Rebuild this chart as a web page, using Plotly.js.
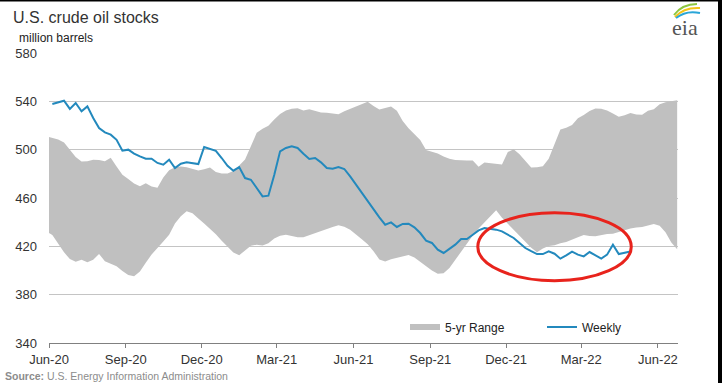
<!DOCTYPE html>
<html>
<head>
<meta charset="utf-8">
<script src="https://cdn.plot.ly/plotly-3.0.1.min.js"></script>
<style>
html,body{margin:0;padding:0;background:#fff;}
#chart{width:722px;height:383px;}
</style>
</head>
<body>
<div id="chart"></div>
<script>
// ---- data (weekly, week ending Friday) ----
const weekEnding = [
'2020-05-29','2020-06-05','2020-06-12','2020-06-19','2020-06-26','2020-07-03','2020-07-10','2020-07-17','2020-07-24','2020-07-31',
'2020-08-07','2020-08-14','2020-08-21','2020-08-28','2020-09-04','2020-09-11','2020-09-18','2020-09-25','2020-10-02','2020-10-09',
'2020-10-16','2020-10-23','2020-10-30','2020-11-06','2020-11-13','2020-11-20','2020-11-27','2020-12-04','2020-12-11','2020-12-18',
'2020-12-25','2021-01-01','2021-01-08','2021-01-15','2021-01-22','2021-01-29','2021-02-05','2021-02-12','2021-02-19','2021-02-26',
'2021-03-05','2021-03-12','2021-03-19','2021-03-26','2021-04-02','2021-04-09','2021-04-16','2021-04-23','2021-04-30','2021-05-07',
'2021-05-14','2021-05-21','2021-05-28','2021-06-04','2021-06-11','2021-06-18','2021-06-25','2021-07-02','2021-07-09','2021-07-16',
'2021-07-23','2021-07-30','2021-08-06','2021-08-13','2021-08-20','2021-08-27','2021-09-03','2021-09-10','2021-09-17','2021-09-24',
'2021-10-01','2021-10-08','2021-10-15','2021-10-22','2021-10-29','2021-11-05','2021-11-12','2021-11-19','2021-11-26','2021-12-03',
'2021-12-10','2021-12-17','2021-12-24','2021-12-31','2022-01-07','2022-01-14','2022-01-21','2022-01-28','2022-02-04','2022-02-11',
'2022-02-18','2022-02-25','2022-03-04','2022-03-11','2022-03-18','2022-03-25','2022-04-01','2022-04-08','2022-04-15','2022-04-22',
'2022-04-29','2022-05-06','2022-05-13','2022-05-20','2022-05-27','2022-06-03','2022-06-10','2022-06-17','2022-06-24'
];

// 5-year range, upper edge (million barrels)
const rangeHigh = [
511,510,508.4,506,499.5,494,490.3,490.4,491.7,491.4,490.4,
493.4,486,479.3,475.7,472,469.8,472.2,469.6,468.4,477,
483,485.4,486.1,485.4,483.8,482.8,483.7,485.2,481.6,480.3,
480.3,482.4,486.9,491.8,502.9,513.9,517.4,519.8,525,529.6,
532.4,533.8,534.2,532.5,533.5,532.2,530.8,530.5,530,529.4,
531.8,533.9,535.6,537.9,539.6,536.1,533.3,534.5,535.7,532.3,
523.8,517.7,512.9,508,499.7,498.2,496.8,494.3,492.5,491.4,
491.5,491,491,485.9,489.4,489,488.5,487.7,498,500.3,
496.2,490.4,485.2,485.4,486.3,492.4,504.4,516.6,518.2,520.5,
526.1,528.6,532.1,534.1,533.9,532.5,529.9,527.3,528.5,530.3,
529.2,529,532.3,533.5,537.6,539.2,540,540.8
];

// 5-year range, lower edge (million barrels)
const rangeLow = [
432.4,429.4,422,415,409.5,407.2,408.9,406.9,408.9,413.7,407.6,
405.5,403.5,399.5,396.2,395.2,399.2,406.4,413.3,419,424,
429.5,439,445,449,447.3,443,439,434.8,430,424.6,
419.3,414.8,412.6,416.5,420.4,421.4,420.6,422.5,426.5,428.8,
429.5,428.5,427.5,427.5,429.4,431,432.6,434.3,435.9,437.5,
436.2,433.7,429.7,425.9,421.8,416,409.2,407.5,409.4,410.3,
411.6,412.8,410.8,407.6,403.8,400,397.4,397.7,402,409.2,
416,422.5,429,434.7,440.3,445,449.8,443.6,438.3,433.5,
428.7,423.8,418.9,415.2,418.2,420.2,420.8,422.5,423.5,425.5,
427.6,429.4,428.5,428.4,429.6,430.2,430.5,431.7,433.4,434.8,
435.5,435.9,437.2,438.4,437,431.7,423.2,417.5
];

// Weekly U.S. crude oil stocks, 2020-06-05 .. 2022-04-29 (million barrels)
const weeklyStocks = [
537.8,539,540.5,533.7,538.6,531.7,535.8,526.2,517.9,514.3,
512.4,508.2,499.1,500,496.7,494.4,492.5,492.5,489,487.6,
491.7,484.8,488.4,489.5,489,488.1,502.2,500.5,499.1,493.1,
486.7,482.6,485.6,476.5,475.1,468.3,461.3,461.9,479,
498.6,501.4,502.7,501.4,496.7,492.3,493.1,489.5,484.8,484.2,
485.6,484,477.9,471,464,457,451,444,437.9,439.8,
436,438.5,438.7,435.7,431,424.7,422.8,417.2,414.5,417.8,
421.4,426.1,426.1,429.6,433.2,435.2,434.6,433.8,432.4,
429.8,
426.9,422.8,418.6,416,413.6,413.6,415.8,413.9,409.8,412.5,
415.6,413.1,411.7,415.3,412.5,409.8,413.1,421.4,413.6,414.5,415.8
];

const xTickVals = ['2020-06-01','2020-09-01','2020-12-01','2021-03-01','2021-06-01','2021-09-01','2021-12-01','2022-03-01','2022-06-01'];
const xTickText = ['Jun-20','Sep-20','Dec-20','Mar-21','Jun-21','Sep-21','Dec-21','Mar-22','Jun-22'];
const yTickVals = [340,380,420,460,500,540,580];

// ---- build ----
const weeklyDates = weekEnding.slice(1, 1 + weeklyStocks.length);
const bandX = weekEnding.concat(weekEnding.slice().reverse());
const bandY = rangeHigh.concat(rangeLow.slice().reverse());

const FONT = 'Liberation Sans, Arial, sans-serif';
const GRAY = '#c0c0c0';
const BLUE = '#2389bd';

// helpers for decoration placement (pixels -> paper)
const L = 49, R = 678, T = 53, B = 343;
const px = v => (v - L) / (R - L);
const py = v => (B - v) / (B - T);

const traces = [
  {x: bandX, y: bandY, type: 'scatter', mode: 'lines', fill: 'toself',
   fillcolor: GRAY, line: {width: 0, color: GRAY}, showlegend: false, hoverinfo: 'skip'},
  {x: [null], y: [null], type: 'scatter', mode: 'lines', name: '5-yr Range',
   line: {color: GRAY, width: 6}},
  {x: weeklyDates, y: weeklyStocks, type: 'scatter', mode: 'lines', name: 'Weekly',
   line: {color: BLUE, width: 2}}
];

const arc = (x0, y0, cx, cy, x1, y1) =>
  `M ${px(x0)} ${py(y0)} Q ${px(cx)} ${py(cy)} ${px(x1)} ${py(y1)}`;

const layout = {
  width: 722, height: 383,
  margin: {l: L, r: 722 - R, t: T, b: 383 - B, pad: 0, autoexpand: false},
  paper_bgcolor: '#ffffff', plot_bgcolor: '#ffffff',
  font: {family: FONT, color: '#333333', size: 13},
  title: {text: 'U.S. crude oil stocks', x: 13 / 722, xref: 'container', xanchor: 'left',
          y: 1 - 17 / 383, yref: 'container', yanchor: 'middle',
          font: {family: FONT, size: 16, color: '#333333'}},
  xaxis: {type: 'date', range: ['2020-06-01', '2022-06-25'],
          tickmode: 'array', tickvals: xTickVals, ticktext: xTickText,
          ticks: 'outside', ticklen: 4, tickcolor: '#808080', tickwidth: 1,
          showline: true, linecolor: '#808080', linewidth: 1,
          showgrid: false, zeroline: false, fixedrange: true,
          tickfont: {family: FONT, size: 13, color: '#333333'}},
  yaxis: {range: [340, 580], tickmode: 'array', tickvals: yTickVals,
          showgrid: true, gridcolor: '#c4c4c4', gridwidth: 1,
          zeroline: false, showline: false, ticks: '', ticklabelstandoff: 11,
          fixedrange: true, tickfont: {family: FONT, size: 13, color: '#333333'}},
  showlegend: true,
  legend: {orientation: 'h', x: px(405), xanchor: 'left', y: py(327), yanchor: 'middle',
           font: {family: FONT, size: 12, color: '#222222'}, bgcolor: 'rgba(0,0,0,0)',
           entrywidth: 92, entrywidthmode: 'pixels', itemwidth: 30, traceorder: 'normal'},
  annotations: [
    {text: 'million barrels', xref: 'paper', yref: 'paper', x: px(17), y: py(37.5),
     xanchor: 'left', yanchor: 'middle', showarrow: false,
     font: {family: FONT, size: 12, color: '#222222'}},
    {text: '<b>Source:</b> U.S. Energy Information Administration', xref: 'paper', yref: 'paper',
     x: px(3), y: py(376), xanchor: 'left', yanchor: 'middle', showarrow: false,
     font: {family: FONT, size: 10.5, color: '#8c8c8c'}},
    {text: 'eia', xref: 'paper', yref: 'paper', x: px(685), y: py(27),
     xanchor: 'center', yanchor: 'middle', showarrow: false,
     font: {family: 'Liberation Serif, DejaVu Serif, serif', size: 22, color: '#555555'}}
  ],
  shapes: [
    {type: 'circle', xref: 'x', yref: 'y', x0: '2021-10-28', x1: '2022-04-30', y0: 391.6, y1: 447.8,
     line: {color: '#e8231c', width: 3}, layer: 'above'},
    {type: 'path', xref: 'paper', yref: 'paper', path: arc(674, 15, 682, 4, 697, 4),
     line: {color: '#8dc63f', width: 2}},
    {type: 'path', xref: 'paper', yref: 'paper', path: arc(675, 17, 684, 7, 700, 8),
     line: {color: '#f2c418', width: 2}},
    {type: 'path', xref: 'paper', yref: 'paper', path: arc(676, 18, 686, 10, 700, 13),
     line: {color: '#2aa6d8', width: 2}},
    {type: 'rect', xref: 'paper', yref: 'paper', x0: px(718), x1: px(730), y0: py(390), y1: py(-5),
     fillcolor: '#000000', line: {width: 0}, layer: 'above'},
    {type: 'rect', xref: 'paper', yref: 'paper', x0: px(-5), x1: px(730), y0: py(1.5), y1: py(-5),
     fillcolor: '#000000', line: {width: 0}, layer: 'above'}
  ]
};

Plotly.newPlot('chart', traces, layout, {displayModeBar: false, staticPlot: true});
</script>
</body>
</html>
